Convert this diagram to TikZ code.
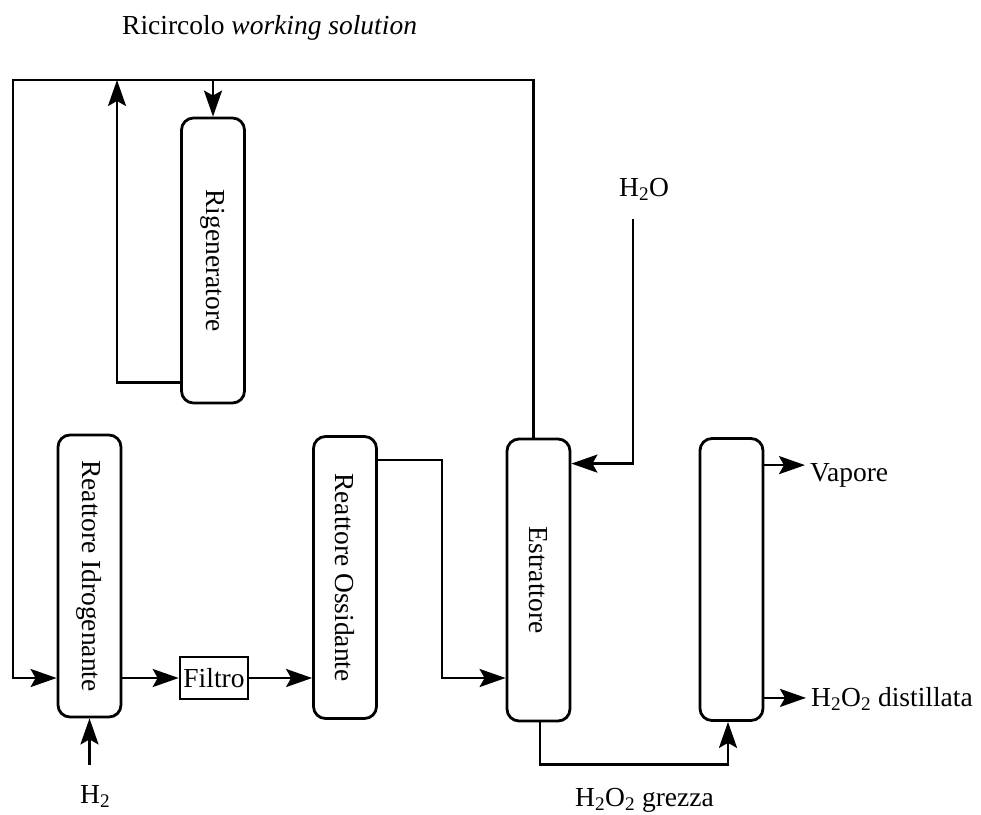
\documentclass[tikz,border=0pt]{standalone}
\usepackage{fontspec}
\setmainfont{Liberation Serif}
\usepackage{graphicx}
\usepackage{tikz}
\usetikzlibrary{arrows.meta,positioning}

\begin{document}
\begin{tikzpicture}[x=1pt, y=-1pt, font=\fontsize{27.5}{32}\selectfont,
    column/.style={rectangle, draw=black, line width=2.8pt, rounded corners=12pt, minimum width=63pt, minimum height=282pt, inner sep=0pt},
    unit/.style={rectangle, draw=black, line width=2.6pt, minimum width=68pt, minimum height=42pt, inner sep=0pt},
    tag/.style={inner xsep=5pt, inner ysep=0pt},
    line/.style={draw, line width=2.6pt, -{Stealth[length=26pt, width=18pt, inset=5pt]}}]

    \useasboundingbox (0,0) rectangle (981,814);

    % units
    \node [column, minimum height=285pt] (rig) at (213,260.5) {\rotatebox{-90}{Rigeneratore}};
    \node [column] (idro) at (89.5,576) {\rotatebox{-90}{Reattore Idrogenante}};
    \node [unit] (filtro) at (214,678) {Filtro};
    \node [column] (ossi) at (345,577.5) {\rotatebox{-90}{Reattore Ossidante}};
    \node [column] (estr) at (538.5,580) {\rotatebox{-90}{Estrattore}};
    \node [column] (dist) at (731.5,579.5) {};

    % streams
    \node [tag, anchor=base west] (ricircolo) at (117,34) {Ricircolo \textit{working solution}};
    \node [tag, anchor=base west] (h2) at (75,803) {H\textsubscript{2}};
    \node [tag, anchor=base west] (h2o) at (614,196) {H\textsubscript{2}O};
    \node [tag, anchor=base west] (grezza) at (570,806) {H\textsubscript{2}O\textsubscript{2} grezza};
    \node [tag, anchor=base west] (vapore) at (805,481) {Vapore};
    \node [tag, anchor=base west] (distillata) at (806,706) {H\textsubscript{2}O\textsubscript{2} distillata};

    \coordinate (tl) at (13,80);
    \coordinate (ret) at (117,80);
    \coordinate (win) at (633,219);

    \path [line] ([xshift=-5pt]estr.north) |- (tl) |- (idro.west |- filtro);
    \path [line] (rig.north |- tl) -- (rig.north);
    \path [line] ([yshift=22pt]rig.south west) -| (ret);
    \path [line, shorten <=20pt] (idro.south |- h2.north) -- (idro.south);
    \path [line] (idro.east |- filtro) -- (filtro);
    \path [line] (filtro) -- (ossi.west |- filtro);
    \path [line] ([yshift=-25pt]ossi.north east) -- ++(64,0) |- (estr.west |- filtro);
    \path [line] (win) |- ([yshift=-26pt]estr.north east);
    \path [line] ([xshift=1.5pt]estr.south) -- ++(0,42) -| ([xshift=-3.5pt]dist.south);
    \path [line] ([yshift=-28pt]dist.north east) -- ([yshift=-28pt]dist.north east -| vapore.west);
    \path [line] ([yshift=24pt]dist.south east) -- ([yshift=24pt]dist.south east -| distillata.west);
\end{tikzpicture}
\end{document}
